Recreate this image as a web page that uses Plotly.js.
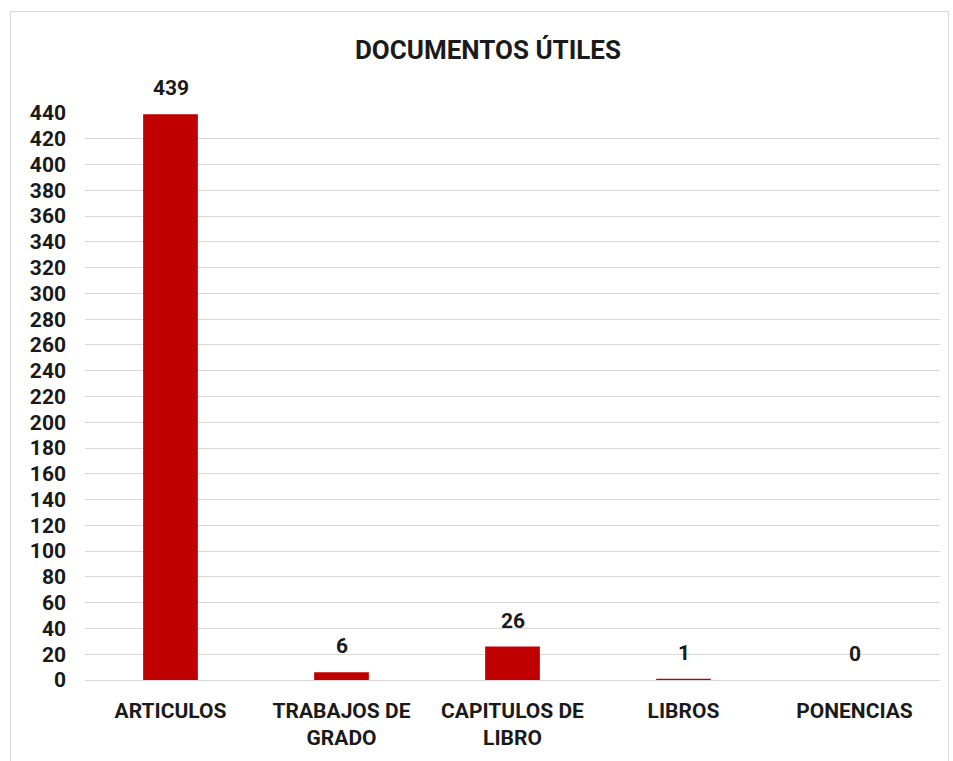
<!DOCTYPE html>
<html>
<head>
<meta charset="utf-8">
<script src="https://cdn.plot.ly/plotly-3.0.1.min.js"></script>
<style>
  html, body { margin: 0; padding: 0; background: #fff; }
  #wrap { position: relative; width: 953px; height: 761px; overflow: hidden; }
  #frame { position: absolute; left: 10px; top: 11px; width: 937px; height: 770px; border: 1px solid #d9d9d9; pointer-events: none; }
  #chart { position: absolute; left: 0; top: 0; width: 953px; height: 761px; }
</style>
</head>
<body>
<div id="wrap">
  <div id="chart"></div>
  <div id="frame"></div>
</div>
<script>
const categories = ["ARTICULOS", "TRABAJOS DE<br>GRADO", "CAPITULOS DE<br>LIBRO", "LIBROS", "PONENCIAS"];
const values = [439, 6, 26, 1, 0];
const labels = ["439", "6", "26", "1", "0"];

const FONT = 'Roboto, "Liberation Sans", sans-serif';

const trace = {
  type: 'bar',
  x: categories,
  y: values,
  marker: { color: '#c00000' },
  hoverinfo: 'none'
};

const annotations = categories.map((c, i) => ({
  x: c, y: values[i], xref: 'x', yref: 'y',
  text: '<b>' + labels[i] + '</b>',
  showarrow: false, yanchor: 'bottom', yshift: 12,
  font: { family: FONT, size: 21, color: '#1a1a1a' }
}));

const layout = {
  width: 953, height: 761,
  margin: { l: 85, r: 13, t: 113, b: 81 },
  paper_bgcolor: '#fff', plot_bgcolor: '#fff',
  bargap: 0.68,
  showlegend: false,
  title: {
    text: '<b>DOCUMENTOS ÚTILES</b>',
    x: 0.512, xanchor: 'center', y: 0.934, yanchor: 'middle',
    font: { family: FONT, size: 26, color: '#1a1a1a' }
  },
  xaxis: {
    type: 'category',
    showgrid: false, zeroline: false, showline: false, ticks: '',
    ticklabelstandoff: 16,
    tickfont: { family: FONT, size: 21, color: '#1a1a1a', weight: 'bold' }
  },
  yaxis: {
    range: [0, 440], dtick: 20, tick0: 0,
    showgrid: true, gridcolor: '#d9d9d9', gridwidth: 1,
    zeroline: true, zerolinecolor: '#d9d9d9', zerolinewidth: 1,
    showline: false, ticks: '',
    ticklabelstandoff: 18,
    tickfont: { family: FONT, size: 21, color: '#1a1a1a', weight: 'bold' }
  },
  annotations: annotations
};

Plotly.newPlot('chart', [trace], layout, { displayModeBar: false, staticPlot: true });
</script>
</body>
</html>
